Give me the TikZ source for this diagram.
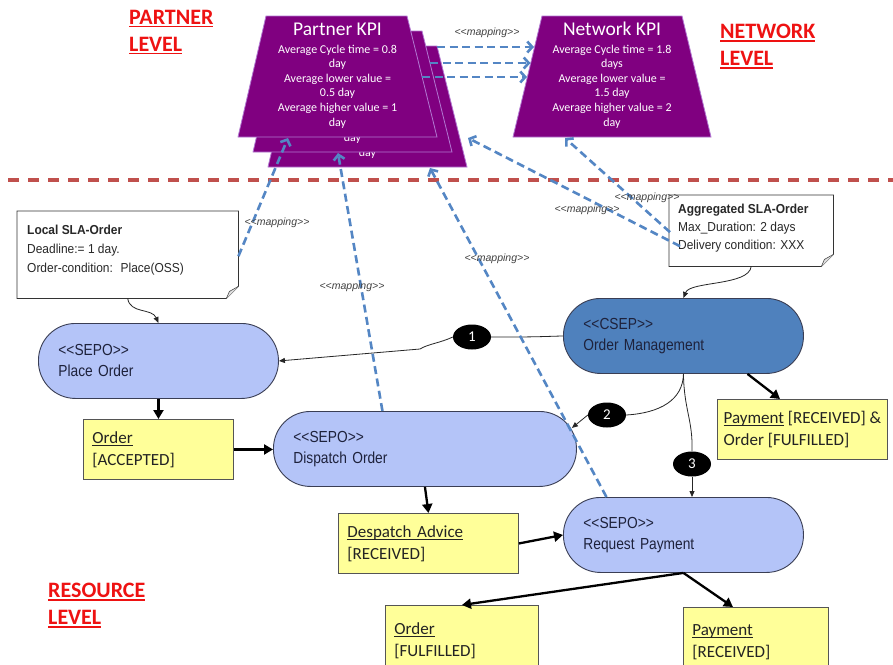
\documentclass[tikz,border=0pt]{standalone}
\usepackage{fontspec}
\usetikzlibrary{arrows.meta,shapes.geometric,calc}
\setmainfont{Carlito}
\newfontfamily\procfont[FakeStretch=0.86]{Liberation Sans}
\newfontfamily\notefont[FakeStretch=0.92]{Liberation Sans}
\newfontfamily\mapfont{Liberation Sans}
% double angle brackets, kept apart so they are not turned into guillemets
\newcommand\dlt{<\kern0pt<}
\newcommand\dgt{>\kern0pt>}
% underlined text: #1 rule thickness, #2 depth of the rule, #3 text
\newsavebox\ulinebox
\newcommand\ulwith[3]{\sbox\ulinebox{#3}\rlap{\raisebox{-#2}{\rule{\wd\ulinebox}{#1}}}\usebox\ulinebox}
\newcommand\levelul[1]{\ulwith{1.7pt}{3pt}{#1}}
\newcommand\docul[1]{\ulwith{0.9pt}{2.5pt}{#1}}
\newcommand\partnerbody{Average Cycle time = 0.8\\day\\Average lower value =\\0.5 day\\Average higher value = 1\\day}

\definecolor{kpipurple}{RGB}{128,0,128}
\definecolor{kpiedge}{RGB}{178,120,210}
\definecolor{sepofill}{RGB}{180,196,248}
\definecolor{csepfill}{RGB}{79,129,189}
\definecolor{pilledge}{RGB}{58,62,84}
\definecolor{pilltext}{RGB}{30,34,60}
\definecolor{docfill}{RGB}{255,255,153}
\definecolor{docedge}{RGB}{85,85,85}
\definecolor{doctext}{RGB}{35,35,35}
\definecolor{mapblue}{RGB}{84,134,196}
\definecolor{levelred}{RGB}{238,18,18}
\definecolor{splitred}{RGB}{192,80,77}
\definecolor{notetextc}{RGB}{40,40,40}

\begin{document}
\begin{tikzpicture}[x=1pt,y=-1pt,
  levelcap/.style={text=levelred, font=\bfseries\fontsize{22}{27}\selectfont, align=left, inner sep=0pt, anchor=north west},
  splitline/.style={draw=splitred, line width=3.2pt, dash pattern=on 11pt off 9pt},
  kpishape/.style={fill=kpipurple, draw=kpiedge, line width=0.8pt},
  kpititle/.style={text=white, font=\fontsize{19.5}{22}\selectfont, inner sep=0pt, anchor=base},
  kpibody/.style={text=white, font=\fontsize{12}{14.6}\selectfont, align=center, inner sep=0pt, anchor=north},
  kpitail/.style={text=white, font=\fontsize{12}{14.6}\selectfont, inner sep=0pt, anchor=base},
  notebox/.style={fill=white, inner sep=0pt, anchor=north west},
  noteline/.style={draw=black!80, line width=0.8pt},
  notefold/.style={draw=black!70, fill=black!12, line width=0.6pt},
  notetext/.style={text=notetextc, font=\notefont\fontsize{13}{19}\selectfont, align=left, inner sep=0pt, anchor=north west},
  pillbase/.style={rectangle, rounded corners=37pt, minimum height=75pt, inner xsep=20pt, inner ysep=0pt, align=left, anchor=north west, line width=0.9pt, text=pilltext, font=\procfont\fontsize{16}{21}\selectfont},
  sepo/.style={pillbase, draw=pilledge, fill=sepofill},
  csep/.style={pillbase, draw=pilledge, fill=csepfill},
  doc/.style={draw=docedge, fill=docfill, line width=0.9pt, anchor=north west, align=left, inner xsep=9pt, inner ysep=0pt, text=doctext, font=\fontsize{17}{22}\selectfont},
  numdot/.style={ellipse, fill=black, text=white, minimum width=38pt, minimum height=25pt, inner sep=0pt, font=\fontsize{15}{15}\selectfont},
  flowarrow/.style={draw=black, line width=2.3pt, -{Triangle[length=9pt,width=10pt]}},
  linkline/.style={draw=black!85, line width=0.8pt},
  linkarrow/.style={linkline, -{Triangle[length=6pt,width=5pt]}},
  mapline/.style={draw=mapblue, line width=2.6pt, dash pattern=on 8pt off 4.5pt, -{Straight Barb[length=5pt,width=11pt]}},
  maplabel/.style={text=black!75, font=\mapfont\itshape\fontsize{10.5}{12}\selectfont, inner sep=0pt}
]
\useasboundingbox (0,0) rectangle (893,664);
\fill[white] (0,0) rectangle (893,664);

% level captions
\node[levelcap] (lvpartner) at (129,10) {\levelul{PARTNER}\\\levelul{LEVEL}};
\node[levelcap] (lvnetwork) at (720,24) {\levelul{NETWORK}\\\levelul{LEVEL}};
\node[levelcap] (lvresource) at (48,583) {\levelul{RESOURCE}\\\levelul{LEVEL}};

% boundary between partner/network level and resource level
\draw[splitline] (8,180) -- (893,180);

% stacked partner KPI sheets: the back sheets only show their last line
\foreach \d/\nm in {30/pk3,15/pk2}{
  \filldraw[kpishape] (266+\d,16+\d) -- (407+\d,16+\d) -- (437+\d,137+\d) -- (238+\d,137+\d) -- cycle;
  \node[kpitail] (\nm-tail) at (337.5+\d,126+\d) {day};
}
\filldraw[kpishape] (266,16) -- (407,16) -- (437,137) -- (238,137) -- cycle;
\node[kpititle] (pk1-title) at (337.5,35) {Partner KPI};
\node[kpibody] (pk1-body) at (337.5,44.5) {\partnerbody};

% network KPI
\filldraw[kpishape] (542,16) -- (682,16) -- (711,137) -- (513,137) -- cycle;
\node[kpititle] (nk-title) at (612,35) {Network KPI};
\node[kpibody] (nk-body) at (612,44.5) {Average Cycle time = 1.8\\days\\Average lower value =\\1.5 day\\Average higher value = 2\\day};

% anchor points on the KPI sheets
\coordinate (pk3-r) at (437,47);
\coordinate (pk2-r) at (430,63);
\coordinate (pk1-r) at (422,77);
\coordinate (nk-l1) at (534,47);
\coordinate (nk-l2) at (530.5,63);
\coordinate (nk-l3) at (527,77);
\coordinate (pk1-foot) at (288,138);
\coordinate (pk2-foot) at (338,153);
\coordinate (pk3-foot) at (430,168);
\coordinate (pk-side) at (468,138);
\coordinate (nk-foot) at (565,138);

% partner to network mappings
\draw[mapline] (pk3-r) -- (nk-l1);
\draw[mapline] (pk2-r) -- (nk-l2);
\draw[mapline] (pk1-r) -- (nk-l3);
\node[maplabel] (map-top) at (487,33) {\dlt mapping\dgt};

% SLA notes
\node[notebox, minimum width=221pt, minimum height=87pt] (lsla) at (17,211) {};
\draw[noteline] (lsla.north west) -- (lsla.north east) -- ($(lsla.south east)+(0,-12)$) -- ($(lsla.south east)+(-12,0)$) -- (lsla.south west) -- cycle;
\filldraw[notefold] ($(lsla.south east)+(0,-12)$) -- ($(lsla.south east)+(-9,-7)$) -- ($(lsla.south east)+(-12,0)$);
\node[notetext] (lsla-text) at ($(lsla.north west)+(10,14)$) {\textbf{Local SLA-Order}\\Deadline:= 1 day.\\Order-condition:~ Place(OSS)};

\node[notebox, minimum width=164pt, minimum height=71pt] (asla) at (669,195) {};
\draw[noteline] (asla.north west) -- (asla.north east) -- ($(asla.south east)+(0,-12)$) -- ($(asla.south east)+(-12,0)$) -- (asla.south west) -- cycle;
\filldraw[notefold] ($(asla.south east)+(0,-12)$) -- ($(asla.south east)+(-9,-7)$) -- ($(asla.south east)+(-12,0)$);
\node[notetext, font=\notefont\fontsize{13}{18}\selectfont] (asla-text) at ($(asla.north west)+(9,9)$) {\textbf{Aggregated SLA-Order}\\Max\_Duration: 2 days\\Delivery condition: XXX};

% process pills
\node[sepo, minimum width=240pt, text width=200pt] (pl) at (38,323) {\dlt SEPO\dgt\\Place Order};
\node[csep, minimum width=240pt, text width=200pt] (om) at (563,298) {\dlt CSEP\dgt\\Order Management};
\node[sepo, minimum width=303pt, text width=263pt] (dsp) at (273,411) {\dlt SEPO\dgt\\Dispatch Order};
\node[sepo, minimum width=240pt, text width=200pt] (rq) at (563,497) {\dlt SEPO\dgt\\Request Payment};

% business documents
\node[doc, minimum width=150pt, minimum height=60pt, text width=132pt] (oacc) at (83,419) {\docul{Order}\\{[ACCEPTED]}};
\node[doc, minimum width=180pt, minimum height=60pt, text width=162pt] (dadv) at (338,513) {\docul{Despatch Advice}\\{[RECEIVED]}};
\node[doc, minimum width=170pt, minimum height=60pt, inner xsep=4pt] (po) at (717,399) {\docul{Payment} [RECEIVED] \&\\Order [FULFILLED]};
\node[doc, minimum width=153pt, minimum height=70pt, text width=135pt] (of) at (385,605) {\docul{Order}\\{[FULFILLED]}};
\node[doc, minimum width=145pt, minimum height=70pt, text width=127pt] (pay) at (683,607) {\docul{Payment}\\{[RECEIVED]}};

% document flow
\draw[flowarrow] (pl.south) -- (oacc.north);
\draw[flowarrow] (oacc.east) -- (dsp.west |- oacc.east);
\draw[flowarrow] (dsp.south) -- (dadv.north);
\draw[flowarrow] (dadv.east) -- (rq.west);
\draw[flowarrow] ($(om.south)+(64,0)$) -- ($(po.north west)+(63,0)$);
\draw[flowarrow] (rq.south) -- (of.north);
\draw[flowarrow] (rq.south) -- ($(pay.north)+(-23,0)$);

% SLA attachments
\draw[linkarrow] (lsla.south) .. controls (130,314) and (152,308) .. (pl.north);
\draw[linkarrow] (asla.south) .. controls (749,286) and (690,281) .. (om.north);

% orchestration steps
\node[numdot] (c1) at (472,337) {1};
\node[numdot] (c2) at (607,415) {2};
\node[numdot] (c3) at (692,464) {3};
\draw[linkline] (om.west) .. controls (530,337) .. (c1.east);
\draw[linkarrow] (c1.west) .. controls (440,343) and (428,344) .. (420,349) -- (pl.east);
\draw[linkline] (om.south) .. controls (683,400) and (660,413) .. (c2.east);
\draw[linkarrow] (c2.west) -- ($(dsp.east)+(-5,-21)$);
\draw[linkline] (om.south) .. controls (684,410) and (693,420) .. (c3.north);
\draw[linkarrow] (c3.south) -- (c3.south |- rq.north);

% resource to partner/network mappings
\draw[mapline] ($(lsla.east)+(0,1.5)$) -- (pk1-foot);
\draw[mapline] ($(dsp.north)+(-42.5,0)$) -- (pk2-foot);
\draw[mapline] ($(rq.north)+(-77,0)$) -- (pk3-foot);
\draw[mapline] ($(asla.west)+(11,15.5)$) -- (pk-side);
\draw[mapline] ($(asla.west)+(1,1.5)$) -- (nk-foot);
\node[maplabel] (map-lsla) at (277,223) {\dlt mapping\dgt};
\node[maplabel] (map-disp) at (352,287) {\dlt mapping\dgt};
\node[maplabel] (map-req) at (497,259) {\dlt mapping\dgt};
\node[maplabel] (map-side) at (587,210) {\dlt mapping\dgt};
\node[maplabel] (map-net) at (647,198) {\dlt mapping\dgt};
\end{tikzpicture}
\end{document}
